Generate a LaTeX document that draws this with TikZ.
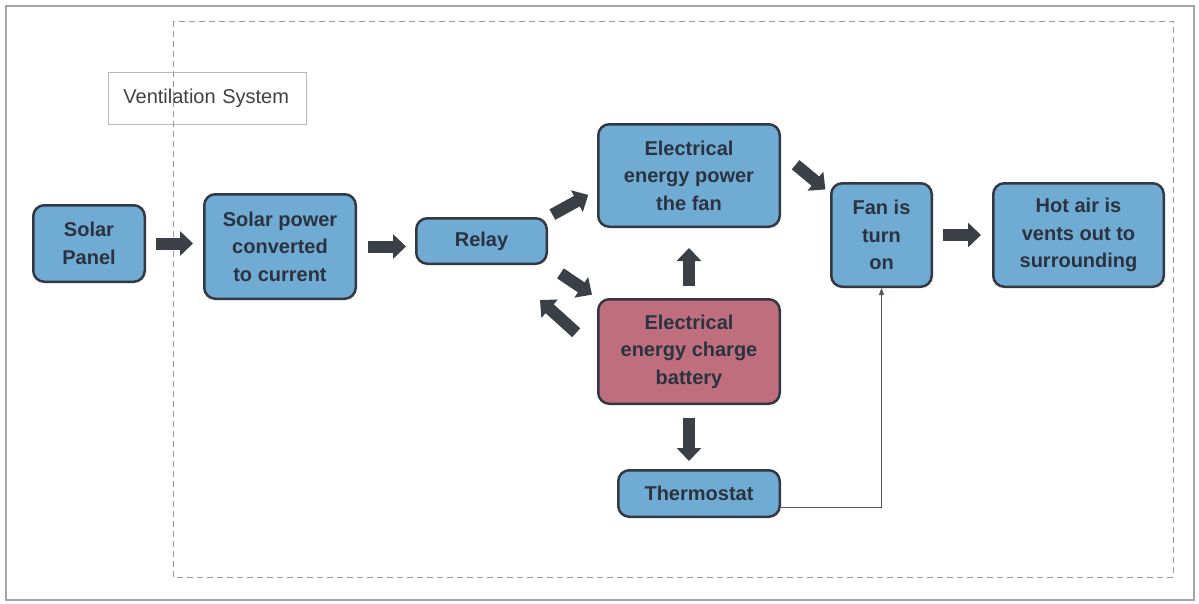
\documentclass[tikz,border=0pt]{standalone}
\usepackage{fontspec}
\setmainfont{Liberation Sans}
\usepackage{xcolor}
\usepackage{tikz}
\usetikzlibrary{arrows.meta}
\definecolor{skyblock}{rgb}{0.44, 0.67, 0.83}
\definecolor{rosebox}{rgb}{0.75, 0.43, 0.49}
\definecolor{slateline}{rgb}{0.20, 0.22, 0.26}
\definecolor{inktext}{rgb}{0.17, 0.20, 0.25}
\definecolor{arrowgrey}{rgb}{0.23, 0.25, 0.28}

\begin{document}
\begin{tikzpicture}[x=1pt,y=-1pt]
	\tikzstyle{block} = [draw=slateline,line width=2.5pt,rounded corners=11pt,fill=skyblock,text=inktext,font=\bfseries\fontsize{20}{27.5}\selectfont,align=center,inner sep=0pt]
	\tikzstyle{bigarrow} = [arrowgrey,line width=12pt,-{Triangle[length=13pt,width=24pt]}]
	\tikzstyle{thinarrow} = [slateline!85,line width=0.8pt,-{Triangle[length=7pt,width=5pt]}]

	\useasboundingbox (0,0) rectangle (1199,603);

	% Draw the frames.
	\draw[gray!70,line width=1.5pt] (6,6) rectangle (1194,600);
	\node[anchor=north west,draw=gray!55,line width=0.8pt,minimum height=52pt,text width=168pt,inner xsep=15pt,align=left,font=\fontsize{20}{24}\selectfont,text=black!75] (ventlabel) at (108,72) {Ventilation System};
	\draw[gray!80,line width=1pt,dash pattern=on 6pt off 4pt] (173,21) rectangle (1173,577);

	% Draw the blocks.
	\node (panel) at (89,243.5) [block,minimum width=111.5pt,minimum height=76.5pt] {Solar\\Panel};
	\node (convert) at (280,246.5) [block,minimum width=151.5pt,minimum height=104.5pt] {Solar power\\converted\\to current};
	\node (relay) at (481.5,241) [block,minimum width=130.5pt,minimum height=45.5pt] {Relay};
	\node (power) at (689,175.5) [block,minimum width=181.5pt,minimum height=102.5pt] {Electrical\\energy power\\the fan};
	\node (battery) at (689,351.5) [block,fill=rosebox,minimum width=181.5pt,minimum height=104.5pt] {Electrical\\energy charge\\battery};
	\node (thermo) at (699,493.5) [block,minimum width=161.5pt,minimum height=46.5pt] {Thermostat};
	\node (fan) at (881.5,235) [block,minimum width=100.5pt,minimum height=103.5pt] {Fan is\\turn\\on};
	\node (hotair) at (1078.5,235) [block,minimum width=170.5pt,minimum height=103.5pt] {Hot air is\\vents out to\\surrounding};

	% Draw the flow arrows.
	\draw[bigarrow,shorten <=10pt,shorten >=10pt] (panel.east) -- (panel.east -| convert.west);
	\draw[bigarrow,shorten <=11pt,shorten >=9pt] (convert.east) -- (convert.east -| relay.west);
	\draw[bigarrow,shorten <=5pt,shorten >=10pt] (relay.north east) -- (power.189);
	\draw[bigarrow,shorten <=15pt,shorten >=6pt] (relay.south east) -- (battery.north west);
	\coordinate (relayback) at (540,300);
	\draw[bigarrow,shorten <=28pt] (battery.west) -- (relayback);
	\draw[bigarrow,shorten <=12pt,shorten >=20pt] (battery.north) -- (power.south);
	\draw[bigarrow,shorten <=13pt,shorten >=8pt] (battery.south) -- (battery.south |- thermo.north);
	\draw[bigarrow,shorten <=19pt,shorten >=6pt] (power.14) -- (fan.141);
	\draw[bigarrow,shorten <=10pt,shorten >=11pt] (fan.east) -- (hotair.west);

	% Thermostat feedback to the fan
	\draw[thinarrow] ([yshift=-14pt]thermo.east) -| (fan.south);
\end{tikzpicture}
\end{document}
